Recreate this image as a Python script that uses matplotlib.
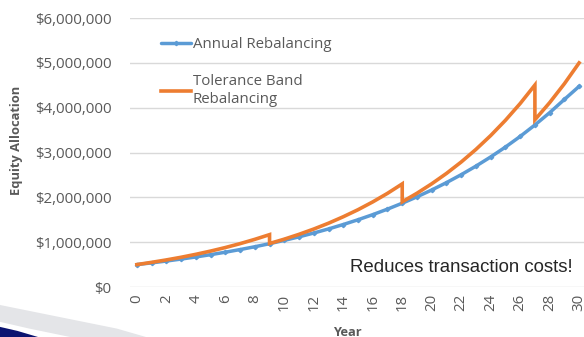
import matplotlib.pyplot as plt
from matplotlib.patches import Polygon
from matplotlib.ticker import FuncFormatter

# values in thousands of dollars
years = list(range(0, 31))
annual = [500, 538, 579, 623, 670, 721, 776, 835, 898, 966,
          1040, 1119, 1204, 1295, 1394, 1500, 1614, 1737, 1869, 2011,
          2164, 2328, 2505, 2696, 2901, 3121, 3358, 3614, 3888, 4184, 4475]

# tolerance band: the year of each rebalance appears twice (peak, then reset)
band_years = [0, 1, 2, 3, 4, 5, 6, 7, 8, 9,
              9, 10, 11, 12, 13, 14, 15, 16, 17, 18,
              18, 19, 20, 21, 22, 23, 24, 25, 26, 27,
              27, 28, 29, 30]
band = [500, 550, 604, 663, 729, 801, 880, 967, 1063, 1168,
        970, 1067, 1175, 1293, 1423, 1567, 1724, 1898, 2089, 2300,
        1900, 2091, 2302, 2533, 2788, 3069, 3378, 3718, 4092, 4505,
        3730, 4112, 4534, 4999]

yticks = [0, 1000, 2000, 3000, 4000, 5000, 6000]
xticks = list(range(0, 31, 2))

blue = '#5B9BD5'
orange = '#ED7D31'
grey_txt = '#595959'

fig = plt.figure(figsize=(5.84, 3.37), dpi=100)

# slide background swoosh in the lower left corner
fig.patches.append(Polygon([[0, 0.095], [0.1, 0.06], [0.2, 0.025], [0.25, 0.0],
                            [0.12, 0.0], [0.05, 0.025], [0.0, 0.045]],
                           closed=True, transform=fig.transFigure,
                           facecolor='#e4e5e8', edgecolor='none', zorder=0))
fig.patches.append(Polygon([[0, 0.03], [0.03, 0.018], [0.065, 0.0], [0, 0.0]],
                           closed=True, transform=fig.transFigure,
                           facecolor='#0b1470', edgecolor='none', zorder=0))

ax = fig.add_axes([129.5 / 584, 50 / 337, 457 / 584, 269 / 337])
ax.patch.set_alpha(0)

ax.plot(years, annual, color=blue, linewidth=2.5, marker='D', markersize=2.2,
        label='Annual Rebalancing', solid_capstyle='round')
ax.plot(band_years, band, color=orange, linewidth=2.6,
        label='Tolerance Band\nRebalancing', solid_joinstyle='miter')

ax.set_xlim(-0.5, 30.5)
ax.set_ylim(0, 6000)
ax.set_yticks(yticks)
ax.set_xticks(xticks)
ax.yaxis.set_major_formatter(FuncFormatter(lambda v, p: '${:,.0f}'.format(v * 1000)))
ax.grid(axis='y', color='#d9d9d9', linewidth=1)
ax.set_axisbelow(True)
for s in ax.spines.values():
    s.set_visible(False)
ax.tick_params(length=0, labelcolor=grey_txt, labelsize=10.8)
ax.tick_params(axis='y', pad=13)
ax.tick_params(axis='x', pad=5)
for lbl in ax.get_yticklabels():
    lbl.set_fontfamily('Open Sans')
for lbl in ax.get_xticklabels():
    lbl.set_fontfamily('Open Sans')
    lbl.set_rotation(90)

fig.text(17 / 584, 1 - 140 / 337, 'Equity Allocation', rotation=90,
         ha='center', va='center', fontsize=9.3, fontweight='bold',
         color=grey_txt, family='Open Sans')
fig.text(347 / 584, 1 - 332 / 337, 'Year', ha='center', va='center',
         fontsize=9.3, fontweight='bold', color=grey_txt, family='Open Sans')

ax.legend(loc='upper left', bbox_to_anchor=(0.04, 0.98), frameon=False,
          handlelength=2.0, handletextpad=0.1, labelspacing=1.5,
          prop={'family': 'Open Sans', 'size': 10.8}, labelcolor=grey_txt)

fig.text(461 / 584, 1 - 267 / 337, 'Reduces transaction costs!',
         ha='center', va='center', fontsize=13.4, color='#262626',
         family='Liberation Sans')

fig.savefig('out.png', dpi=100)
